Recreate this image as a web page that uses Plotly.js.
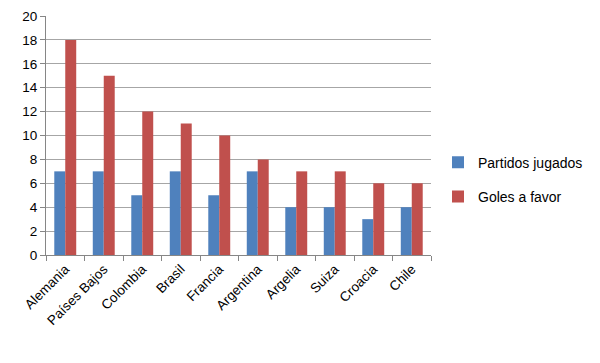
<!DOCTYPE html>
<html>
<head>
<meta charset="utf-8">
<script src="https://cdn.plot.ly/plotly-3.0.1.min.js"></script>
<style>html,body{margin:0;padding:0;background:#fff;}#chart{width:600px;height:363px;}</style>
</head>
<body>
<div id="chart"></div>
<script>
const categories = ["Alemania", "Países Bajos", "Colombia", "Brasil", "Francia", "Argentina", "Argelia", "Suiza", "Croacia", "Chile"];
const partidosJugados = [7, 7, 5, 7, 5, 7, 4, 4, 3, 4];
const golesAFavor = [18, 15, 12, 11, 10, 8, 7, 7, 6, 6];
const seriesNames = ["Partidos jugados", "Goles a favor"];
const yTicks = [0, 2, 4, 6, 8, 10, 12, 14, 16, 18, 20];

const font = "Liberation Sans, Arial, sans-serif";
const data = [
  {type: "bar", name: seriesNames[0], x: categories, y: partidosJugados,
   marker: {color: "#4F81BD"}, legendgroup: "a"},
  {type: "bar", name: seriesNames[1], x: categories, y: golesAFavor,
   marker: {color: "#C0504D"}, legendgroup: "b"}
];
const layout = {
  width: 600, height: 363,
  margin: {l: 46, r: 169, t: 16, b: 108},
  paper_bgcolor: "#fff", plot_bgcolor: "#fff",
  barmode: "group", bargap: 0.43, bargroupgap: 0,
  font: {family: font, size: 12, color: "#000"},
  showlegend: true,
  legend: {xref: "container", yref: "container", x: 0.73, y: 0.505,
           yanchor: "middle", xanchor: "left",
           font: {family: font, size: 14, color: "#000"},
           tracegroupgap: 13, traceorder: "grouped", itemwidth: 30},
  xaxis: {type: "category", tickson: "boundaries", ticks: "outside", ticklen: 5,
          tickcolor: "#868686", showline: true, linecolor: "#868686", linewidth: 1,
          tickangle: -45, tickfont: {family: font, size: 13.5, color: "#000"},
          showgrid: false, fixedrange: true},
  yaxis: {range: [0, 20], tickvals: yTicks, ticks: "outside", ticklen: 5,
          tickcolor: "#868686", showline: true, linecolor: "#868686", linewidth: 1,
          showgrid: true, gridcolor: "#a6a6a6", gridwidth: 1, zeroline: false,
          tickfont: {family: font, size: 13.5, color: "#000"}, fixedrange: true}
};
Plotly.newPlot("chart", data, layout, {displayModeBar: false, staticPlot: true});
</script>
</body>
</html>
